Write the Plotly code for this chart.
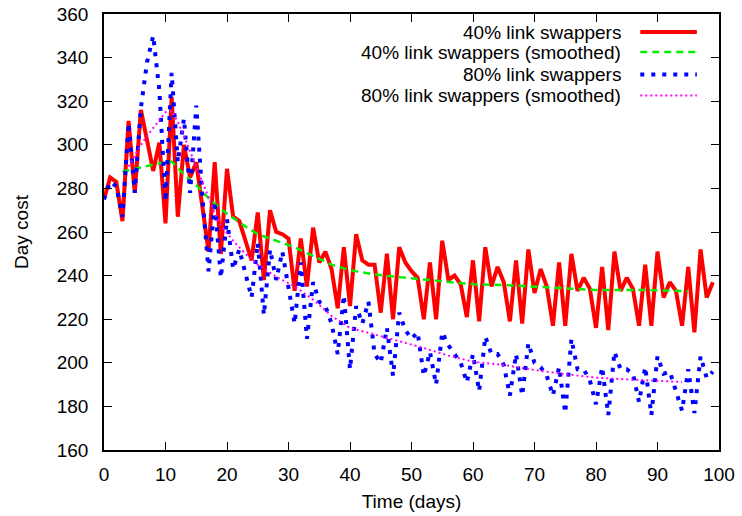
import plotly.graph_objects as go

days = list(range(100))

swap40 = [275, 285, 283, 265, 311, 278, 316, 302, 288, 301,
          264, 322, 267, 300, 285, 292, 272, 251, 292, 250,
          289, 267, 265, 256, 247, 269, 238, 270, 260, 259,
          257, 233, 257, 235, 262, 246, 251, 243, 225, 253,
          226, 259, 247, 245, 245, 223, 250, 220, 253, 246,
          242, 239, 220, 246, 220, 256, 238, 240, 236, 221,
          247, 219, 253, 235, 244, 237, 219, 247, 218, 252,
          232, 243, 235, 217, 246, 217, 250, 233, 239, 234,
          216, 244, 215, 251, 233, 239, 234, 217, 245, 217,
          251, 230, 237, 233, 217, 244, 214, 252, 230, 237]

swap80 = [275, 283, 281, 267, 310, 278, 317, 338, 350, 325,
          274, 333, 292, 312, 278, 318, 276, 242, 274, 239,
          266, 243, 252, 241, 230, 255, 222, 252, 238, 251,
          235, 218, 246, 211, 237, 228, 226, 218, 204, 231,
          197, 226, 218, 228, 204, 200, 216, 194, 223, 215,
          211, 214, 194, 205, 190, 214, 208, 204, 200, 191,
          204, 187, 212, 204, 204, 199, 185, 204, 185, 209,
          200, 198, 194, 185, 198, 177, 211, 197, 197, 192,
          181, 198, 176, 205, 197, 197, 195, 182, 198, 176,
          203, 195, 196, 187, 178, 197, 177, 203, 193, 196]

smooth40_days = [3, 5, 7, 9, 11, 13, 15, 17, 19, 21, 23, 25, 28, 31, 34, 37, 40,
                 44, 48, 52, 56, 60, 65, 70, 75, 80, 85, 90, 95]
smooth40 = [287.7, 289, 290.3, 291.5, 292.3, 286.5, 281.5, 275.5, 270.5, 266.3,
            262.5, 259, 256, 253, 249, 245, 242.5, 240.5, 239.3, 238.2, 237,
            236, 235.7, 235, 234.2, 233.4, 233.4, 233.3, 232.8]

smooth80_days = [4, 5, 6, 7, 8, 9, 10, 11, 12, 13, 14, 15, 16, 17, 18, 19, 21, 23,
                 25, 28, 31, 34, 37, 40, 44, 48, 52, 56, 60, 65, 70, 75, 80, 85,
                 90, 94]
smooth80 = [290, 295, 300, 304, 307.5, 311, 315, 315.5, 310.5, 304, 297, 290.5,
            283, 276, 268.5, 263, 256, 250, 245, 239.5, 235, 229, 221.5, 216,
            213, 210, 206.8, 203.3, 200.5, 199, 196.7, 194.8, 193.2, 192.4,
            191.8, 191.2]

names = ["40% link swappers", "40% link swappers (smoothed)",
         "80% link swappers", "80% link swappers (smoothed)"]
colors = ["#ff0000", "#00ee00", "#0000ff", "#ff00ff"]
widths = [4, 2.5, 4, 2]
dashes = ["solid", "7px,5px", "4px,7px", "2px,3px"]

FONT = "Liberation Sans, Arial, sans-serif"

fig = go.Figure()
series = [(days, swap40), (smooth40_days, smooth40), (days, swap80), (smooth80_days, smooth80)]
for i, (xs, ys) in enumerate(series):
    fig.add_trace(go.Scatter(x=xs, y=ys, mode="lines", name=names[i],
                             line=dict(color=colors[i], width=widths[i], dash=dashes[i]),
                             showlegend=False))

# gnuplot-style key (text right-aligned, sample to the right)
key_y = [0.9587, 0.9128, 0.8612, 0.8128]
for i in range(4):
    fig.add_annotation(xref="paper", yref="paper", x=0.844, y=key_y[i], text=names[i],
                       showarrow=False, xanchor="right", yanchor="middle",
                       font=dict(family=FONT, size=19, color="black"))
    fig.add_shape(type="line", xref="paper", yref="paper", x0=0.872, x1=0.964,
                  y0=key_y[i], y1=key_y[i],
                  line=dict(color=colors[i], width=widths[i], dash=dashes[i]))

axis_common = dict(showline=True, linecolor="black", linewidth=1.5, mirror="ticks",
                   ticks="inside", ticklen=8, tickwidth=1.2, tickcolor="black",
                   showgrid=False, zeroline=False,
                   tickfont=dict(family=FONT, size=19, color="black"))
fig.update_xaxes(range=[0, 100], tick0=0, dtick=10, ticklabelstandoff=6,
                 title=dict(text="Time (days)", font=dict(family=FONT, size=19, color="black"),
                            standoff=11),
                 **axis_common)
fig.update_yaxes(range=[160, 360], tick0=160, dtick=20, ticklabelstandoff=10,
                 title=dict(text="Day cost", font=dict(family=FONT, size=19, color="black"),
                            standoff=23),
                 **axis_common)

fig.update_layout(width=742, height=516, plot_bgcolor="white", paper_bgcolor="white",
                  margin=dict(l=103.5, r=23, t=14, b=66, autoexpand=False),
                  font=dict(family=FONT, size=19, color="black"))

fig.write_html("out.html")
